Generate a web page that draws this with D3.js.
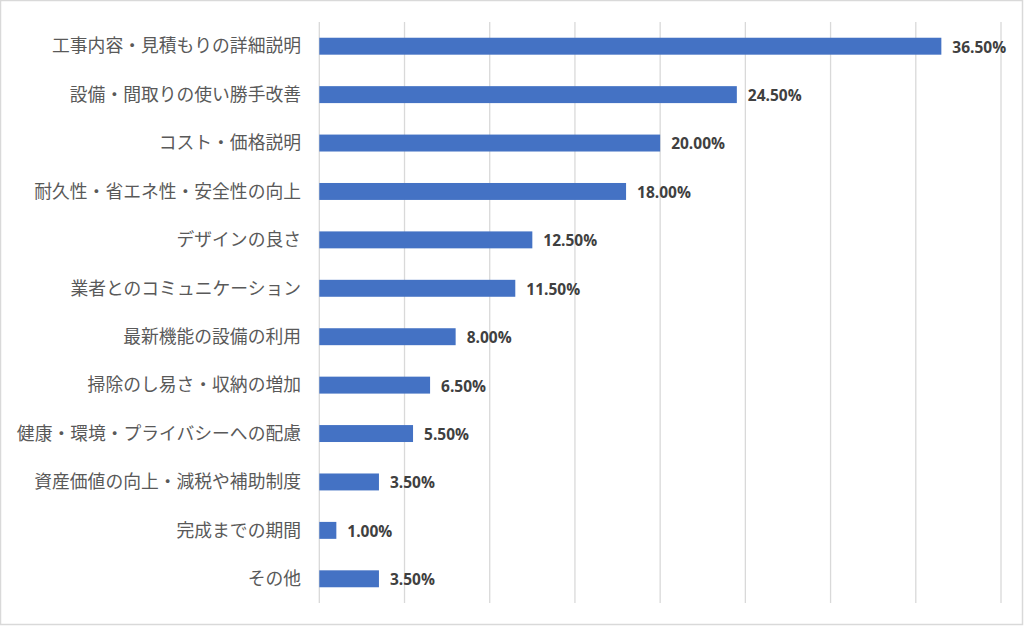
<!DOCTYPE html>
<html><head><meta charset="utf-8">
<script src="https://cdn.jsdelivr.net/npm/d3@7"></script>
<style>body{margin:0;background:#fff}</style>
</head><body>
<script>
const categories = ["工事内容・見積もりの詳細説明","設備・間取りの使い勝手改善","コスト・価格説明","耐久性・省エネ性・安全性の向上","デザインの良さ","業者とのコミュニケーション","最新機能の設備の利用","掃除のし易さ・収納の増加","健康・環境・プライバシーへの配慮","資産価値の向上・減税や補助制度","完成までの期間","その他"];
const values = [36.5,24.5,20.0,18.0,12.5,11.5,8.0,6.5,5.5,3.5,1.0,3.5];
const ticks = [0,5,10,15,20,25,30,35,40];

const W=1024,H=626;
const svg=d3.select("body").append("svg").attr("width",W).attr("height",H);
svg.append("rect").attr("x",0.5).attr("y",0.5).attr("width",W-2).attr("height",H-2)
  .attr("fill","#fff").attr("stroke","#d9d9d9").attr("stroke-width",1.5);

const x=d3.scaleLinear().domain([0,40]).range([319.3,1001]);
const y=d3.scaleBand().domain(categories).range([22,603]).paddingInner(0.65).paddingOuter(0.325);

svg.append("g").selectAll("line").data(ticks).join("line")
  .attr("x1",d=>x(d)).attr("x2",d=>x(d)).attr("y1",22).attr("y2",603)
  .attr("stroke","#d9d9d9").attr("stroke-width",1.3);

const data=categories.map((c,i)=>({c,v:values[i]}));
svg.append("g").selectAll("rect").data(data).join("rect")
  .attr("x",x(0)).attr("y",d=>y(d.c)).attr("width",d=>x(d.v)-x(0)).attr("height",y.bandwidth())
  .attr("fill","#4472c4");

svg.append("g").selectAll("text").data(data).join("text")
  .attr("x",d=>x(d.v)+11).attr("y",d=>y(d.c)+y.bandwidth()/2+1).attr("dy","0.35em")
  .attr("font-family","'Open Sans','Noto Sans',sans-serif").attr("font-weight","bold")
  .attr("font-size","15.5px").attr("fill","#404040")
  .text(d=>d.v.toFixed(2)+"%");

svg.append("g").selectAll("text").data(categories).join("text")
  .attr("x",301).attr("y",d=>y(d)+y.bandwidth()/2).attr("dy","0.35em")
  .attr("text-anchor","end")
  .attr("font-family","'Noto Sans CJK JP',sans-serif").attr("font-size","17.8px").attr("fill","#595959")
  .text(d=>d);
</script>
</body></html>
